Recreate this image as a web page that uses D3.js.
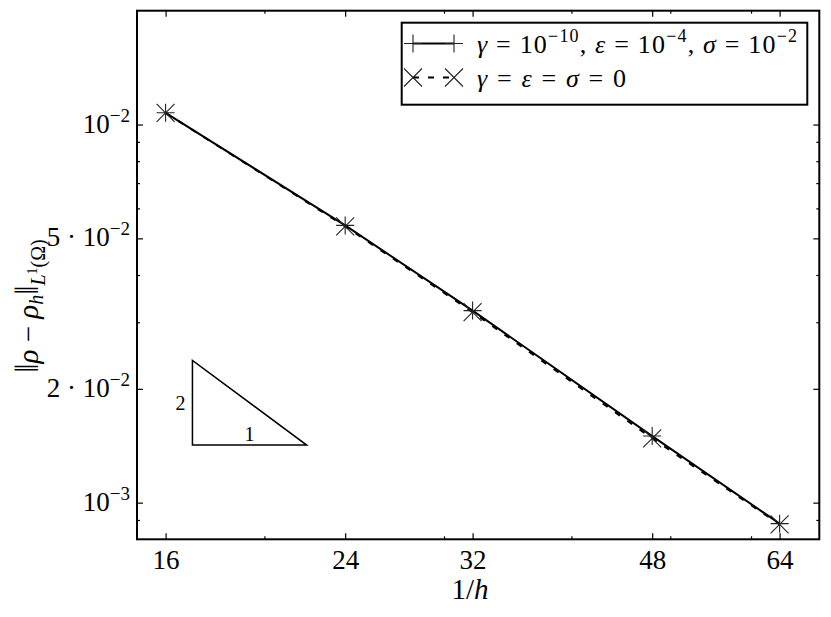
<!DOCTYPE html>
<html>
  <head>
    <meta charset="utf-8" />
    <script src="https://cdn.jsdelivr.net/npm/d3@7"></script>
    <style>
      body {
        margin: 0;
        background: #fff;
      }
    </style>
  </head>
  <body>
    <svg id="chart" width="831" height="617"></svg>
    <script>
      // data
      var hInv = [16, 24, 32, 48, 64];
      var errReg = [1.074e-2, 5.41e-3, 3.22e-3, 1.5e-3, 8.8e-4];
      var errZero = [1.073e-2, 5.38e-3, 3.19e-3, 1.48e-3, 8.76e-4];

      var xTicks = [16, 24, 32, 48, 64];
      var xMinor = [20, 30, 40, 50, 60];
      var yTicks = [1e-2, 5e-3, 2e-3, 1e-3];
      // tick text as printed: [prefix, base, exponent]
      var yTickText = [
        ["", "10", "\u22122"],
        ["5 \u00b7 ", "10", "\u22122"],
        ["2 \u00b7 ", "10", "\u22122"],
        ["", "10", "\u22123"],
      ];
      var yMinor = [9e-3, 8e-3, 7e-3, 6e-3, 4e-3, 3e-3, 9e-4];

      // slope triangle
      var slopeX = [17, 22];
      var slopeBase = 1.42e-3;

      var FONT = "Liberation Serif";

      var svg = d3.select("#chart"),
        margin = { top: 10.7, right: 11.7, bottom: 77.7, left: 137 },
        W = +svg.attr("width"),
        H = +svg.attr("height");

      var x = d3
        .scaleLog()
        .domain([15, 70])
        .range([margin.left, W - margin.right]);
      var y = d3
        .scaleLog()
        .domain([8e-4, 2e-2])
        .range([H - margin.bottom, margin.top]);

      var x0 = margin.left,
        x1 = W - margin.right,
        y0 = margin.top,
        y1 = H - margin.bottom;

      function txt(parent) {
        return parent.append("text").style("font-family", FONT).attr("fill", "#000");
      }

      // ticks (inward, mirrored)
      function ticks(axis, vals, len, tr) {
        var g = svg
          .append("g")
          .attr("transform", tr)
          .call(axis.tickValues(vals).tickSizeInner(-len).tickSizeOuter(0));
        g.select(".domain").remove();
        g.selectAll("line").attr("stroke", "#000").attr("stroke-width", 1.2);
        return g;
      }

      var xAxis = ticks(
        d3.axisBottom(x).tickFormat((d) => d).tickPadding(10.5),
        xTicks,
        6,
        "translate(0," + y1 + ")"
      );
      xAxis.attr("font-family", FONT);
      xAxis
        .selectAll("text")
        .attr("font-size", 27)
        .style("font-family", FONT);
      ticks(d3.axisBottom(x).tickFormat(""), xMinor, 3, "translate(0," + y1 + ")");
      ticks(d3.axisTop(x).tickFormat(""), xTicks, 6, "translate(0," + y0 + ")");
      ticks(d3.axisTop(x).tickFormat(""), xMinor, 3, "translate(0," + y0 + ")");

      ticks(d3.axisLeft(y).tickFormat(""), yTicks, 6, "translate(" + x0 + ",0)");
      ticks(d3.axisLeft(y).tickFormat(""), yMinor, 3, "translate(" + x0 + ",0)");
      ticks(d3.axisRight(y).tickFormat(""), yTicks, 6, "translate(" + x1 + ",0)");
      ticks(d3.axisRight(y).tickFormat(""), yMinor, 3, "translate(" + x1 + ",0)");

      yTicks.forEach(function (v, i) {
        var t = txt(svg)
          .attr("x", x0 - 7)
          .attr("y", y(v) + 8)
          .attr("text-anchor", "end")
          .attr("font-size", 27);
        t.append("tspan").text(yTickText[i][0] + yTickText[i][1]);
        t.append("tspan")
          .attr("dy", -11)
          .attr("font-size", 19)
          .text(yTickText[i][2]);
      });

      // frame
      svg
        .append("rect")
        .attr("x", x0)
        .attr("y", y0)
        .attr("width", x1 - x0)
        .attr("height", y1 - y0)
        .attr("fill", "none")
        .attr("stroke", "#000")
        .attr("stroke-width", 2);

      var line = d3
        .line()
        .x((d) => x(d[0]))
        .y((d) => y(d[1]));

      var ptsReg = hInv.map((h, i) => [h, errReg[i]]);
      var ptsZero = hInv.map((h, i) => [h, errZero[i]]);

      svg
        .append("path")
        .attr("d", line(ptsZero))
        .attr("fill", "none")
        .attr("stroke", "#000")
        .attr("stroke-width", 2)
        .attr("stroke-dasharray", "6,9");
      svg
        .append("path")
        .attr("d", line(ptsReg))
        .attr("fill", "none")
        .attr("stroke", "#000")
        .attr("stroke-width", 2);

      var r = 9;
      var plus = (cx, cy) =>
        "M" + (cx - r) + "," + cy + "h" + 2 * r + "M" + cx + "," + (cy - r) + "v" + 2 * r;
      var cross = (cx, cy) =>
        "M" + (cx - r) + "," + (cy - r) + "l" + 2 * r + "," + 2 * r +
        "M" + (cx - r) + "," + (cy + r) + "l" + 2 * r + "," + -2 * r;

      svg
        .selectAll(".m-reg")
        .data(ptsReg)
        .enter()
        .append("path")
        .attr("class", "m-reg")
        .attr("d", (d) => plus(x(d[0]), y(d[1])))
        .attr("stroke", "#222")
        .attr("stroke-width", 1.1);
      svg
        .selectAll(".m-zero")
        .data(ptsZero)
        .enter()
        .append("path")
        .attr("class", "m-zero")
        .attr("d", (d) => cross(x(d[0]), y(d[1])))
        .attr("stroke", "#222")
        .attr("stroke-width", 1.1);

      // slope triangle
      var slopeTop = slopeBase * Math.pow(slopeX[1] / slopeX[0], 2);
      var tri = [
        [slopeX[0], slopeTop],
        [slopeX[0], slopeBase],
        [slopeX[1], slopeBase],
      ];
      svg
        .append("path")
        .attr("d", line(tri) + "Z")
        .attr("fill", "none")
        .attr("stroke", "#000")
        .attr("stroke-width", 1.5);
      txt(svg)
        .attr("x", x(slopeX[0]) - 7)
        .attr("y", (y(slopeTop) + y(slopeBase)) / 2 + 7)
        .attr("text-anchor", "end")
        .attr("font-size", 20)
        .text("2");
      txt(svg)
        .attr("x", x(Math.sqrt(slopeX[0] * slopeX[1])))
        .attr("y", y(slopeBase) - 4)
        .attr("text-anchor", "middle")
        .attr("font-size", 20)
        .text("1");

      // axis labels
      var xl = txt(svg)
        .attr("x", 470)
        .attr("y", 599)
        .attr("text-anchor", "middle")
        .attr("font-size", 29);
      xl.append("tspan").text("1/");
      xl.append("tspan").attr("font-style", "italic").text("h");

      var yl = txt(svg)
        .attr("transform", "translate(38,306) rotate(-90)")
        .attr("text-anchor", "middle")
        .attr("font-size", 29);
      yl.append("tspan").attr("font-size", 33).text("\u2016");
      yl.append("tspan").attr("font-style", "italic").text("\u03c1");
      yl.append("tspan").text(" \u2212 ");
      yl.append("tspan").attr("font-style", "italic").text("\u03c1");
      yl.append("tspan").attr("font-style", "italic").attr("font-size", 20).attr("dy", 5).text("h");
      yl.append("tspan").attr("font-size", 33).attr("dy", -5).text("\u2016");
      yl.append("tspan").attr("font-style", "italic").attr("font-size", 20).attr("dy", 7).text("L");
      yl.append("tspan").attr("font-size", 14).attr("dy", -8).text("1");
      yl.append("tspan").attr("font-size", 20).attr("dy", 8).text("(\u03a9)");

      // legend
      var lg = svg.append("g");
      lg.append("rect")
        .attr("x", 401.7)
        .attr("y", 22.7)
        .attr("width", 405.6)
        .attr("height", 82)
        .attr("fill", "#fff")
        .attr("stroke", "#000")
        .attr("stroke-width", 2);

      var rows = [
        { y: 43.5, dash: null, mark: plus },
        { y: 77.5, dash: "6,9", mark: cross },
      ];
      rows.forEach(function (rw) {
        lg.append("line")
          .attr("x1", 413)
          .attr("x2", 454)
          .attr("y1", rw.y)
          .attr("y2", rw.y)
          .attr("stroke", "#000")
          .attr("stroke-width", 2)
          .attr("stroke-dasharray", rw.dash);
        [413, 454].forEach(function (cx) {
          lg.append("path")
            .attr("d", rw.mark(cx, rw.y))
            .attr("stroke", "#222")
            .attr("stroke-width", 1.1);
        });
      });

      function addPieces(t, pieces) {
        pieces.forEach(function (p) {
          var s = t.append("tspan").text(p[0]);
          if (p[1] === "i") s.attr("font-style", "italic");
          if (p[1] === "sup") s.attr("font-size", 18).attr("dy", -11);
          if (p[1] === "after") s.attr("dy", 11);
        });
      }
      var l1 = txt(lg).attr("x", 477).attr("y", 53).attr("font-size", 26);
      addPieces(l1, [
        ["\u03b3", "i"], [" = 10", ""], ["\u221210", "sup"], [", ", "after"],
        ["\u03b5", "i"], [" = 10", ""], ["\u22124", "sup"], [", ", "after"],
        ["\u03c3", "i"], [" = 10", ""], ["\u22122", "sup"],
      ]);
      l1.attr("textLength", 320).attr("lengthAdjust", "spacing");
      var l2 = txt(lg).attr("x", 477).attr("y", 87).attr("font-size", 26);
      addPieces(l2, [
        ["\u03b3", "i"], [" = ", ""], ["\u03b5", "i"], [" = ", ""],
        ["\u03c3", "i"], [" = 0", ""],
      ]);
      l2.attr("textLength", 149).attr("lengthAdjust", "spacing");
    </script>
  </body>
</html>
